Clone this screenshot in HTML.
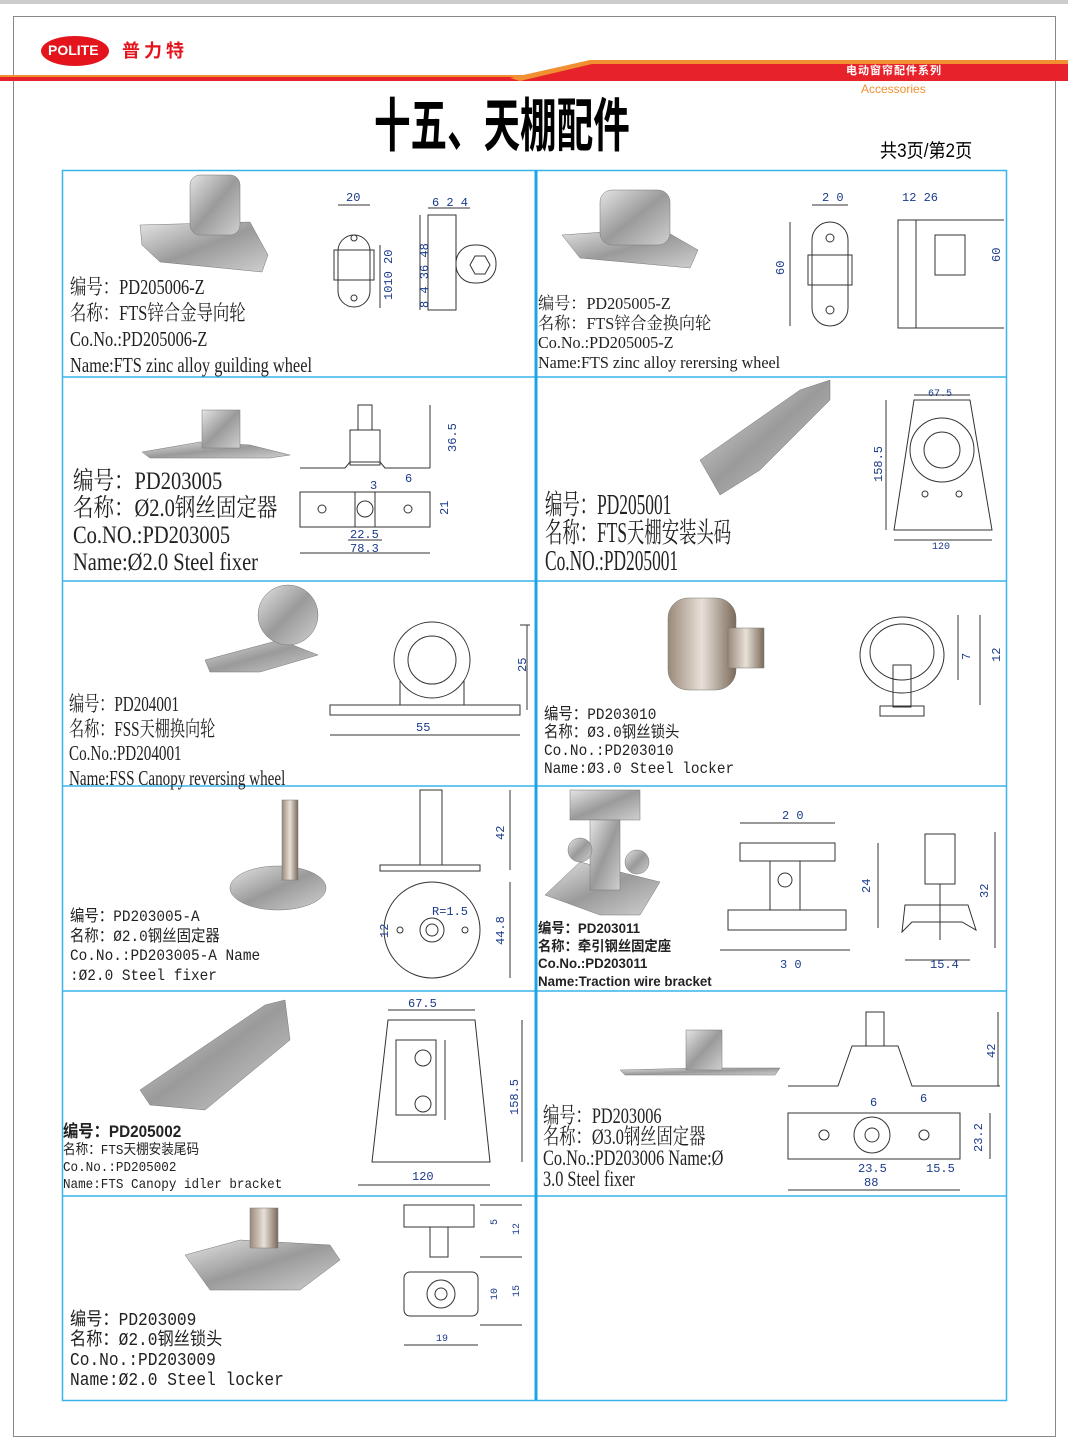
<!DOCTYPE html>
<html><head><meta charset="utf-8">
<style>
html,body{margin:0;padding:0;background:#fff}
#p{position:relative;width:1068px;height:1446px;overflow:hidden;background:#fff}
svg{position:absolute;left:0;top:0}
.t{position:absolute;white-space:nowrap;color:#222;transform-origin:0 0;line-height:1}
.c{font-family:"Liberation Serif","Noto Serif CJK SC",serif;transform:scaleX(0.72)}
.m{font-family:"Liberation Mono","Noto Sans CJK SC",monospace;transform:scaleX(0.9)}
.b{font-family:"Liberation Sans","Noto Sans CJK SC",sans-serif;font-weight:bold;transform:scaleX(0.95)}
.s{font-family:"Liberation Sans","Noto Sans CJK SC",sans-serif}
</style></head><body><div id="p">
<svg width="1068" height="1446" viewBox="0 0 1068 1446">
<rect x="0" y="0" width="1068" height="4" fill="#ccc"/>
<rect x="13.5" y="16.5" width="1042" height="1420" fill="none" stroke="#888" stroke-width="1"/>
<rect x="0" y="76" width="530" height="5" fill="#e8222a"/>
<rect x="0" y="75" width="530" height="2" fill="#f09030"/>
<polygon points="510,81 590,62 1068,62 1068,81" fill="#e8222a"/>
<polygon points="510,78 590,60 1068,60 1068,64 592,64 520,81" fill="#f09030"/>
<ellipse cx="75" cy="51" rx="34" ry="15" fill="#e3141c"/>
<g stroke="#38b4ea" stroke-width="1.5" fill="none">
<rect x="62.5" y="170.5" width="944" height="1230"/>
<line x1="62" y1="377" x2="1006" y2="377"/>
<line x1="62" y1="581" x2="1006" y2="581"/>
<line x1="62" y1="786" x2="1006" y2="786"/>
<line x1="62" y1="991" x2="1006" y2="991"/>
<line x1="62" y1="1196" x2="1006" y2="1196"/>
</g>
<line x1="536" y1="170" x2="536" y2="1400" stroke="#1aa4e6" stroke-width="3"/>
<defs><linearGradient id="g" x1="0" y1="0" x2="1" y2="1"><stop offset="0" stop-color="#e4e4e4"/><stop offset="0.5" stop-color="#9a9a9a"/><stop offset="1" stop-color="#cfcfcf"/></linearGradient>
<linearGradient id="gb" x1="0" y1="0" x2="1" y2="0"><stop offset="0" stop-color="#9a8a7a"/><stop offset="0.5" stop-color="#e8e0d8"/><stop offset="1" stop-color="#7a6a5a"/></linearGradient></defs>
<g fill="url(#g)" stroke="#777" stroke-width="0.5">
<polygon points="140,225 250,222 268,255 262,272 160,262 142,245"/><rect x="190" y="175" width="50" height="60" rx="10"/>
<polygon points="562,235 660,228 698,250 690,268 580,258"/><rect x="600" y="190" width="70" height="55" rx="12"/>
<polygon points="142,452 200,442 250,445 290,455 270,458 150,458"/><rect x="202" y="410" width="38" height="38"/>
<polygon points="700,460 800,390 830,380 830,400 760,470 720,495"/>
<polygon points="205,660 280,640 318,655 260,672 210,672"/><circle cx="288" cy="615" r="30"/>
<rect x="668" y="598" width="68" height="92" rx="20" fill="url(#gb)"/><rect x="728" y="628" width="36" height="40" fill="url(#gb)"/>
<ellipse cx="278" cy="888" rx="48" ry="22"/><rect x="282" y="800" width="16" height="80" fill="url(#gb)"/>
<polygon points="545,895 580,862 660,882 640,915 600,915"/><rect x="570" y="790" width="70" height="30"/><rect x="590" y="820" width="30" height="70"/><circle cx="580" cy="850" r="12"/><circle cx="637" cy="862" r="12"/>
<polygon points="140,1090 265,1005 285,1000 290,1040 205,1110 150,1105"/>
<polygon points="620,1070 700,1068 780,1068 775,1075 625,1075"/><rect x="686" y="1030" width="36" height="40"/>
<polygon points="185,1255 240,1240 330,1245 340,1260 300,1290 210,1290"/><rect x="250" y="1208" width="28" height="40" fill="url(#gb)"/>
</g>
<g stroke="#333" stroke-width="1" fill="none">
<rect x="338" y="235" width="32" height="72" rx="16"/><rect x="334" y="250" width="40" height="30"/><circle cx="354" cy="298" r="3"/><circle cx="354" cy="238" r="3"/>
<line x1="338" y1="205" x2="370" y2="205"/><line x1="380" y1="245" x2="380" y2="308"/>
<rect x="428" y="215" width="28" height="95"/><rect x="456" y="245" width="40" height="38" rx="18"/><polygon points="475,256 485,256 490,265 485,274 475,274 470,265"/>
<line x1="428" y1="208" x2="470" y2="208"/><line x1="420" y1="215" x2="420" y2="310"/>
<rect x="812" y="222" width="36" height="104" rx="18"/><rect x="808" y="255" width="44" height="30"/><circle cx="830" cy="238" r="4"/><circle cx="830" cy="310" r="4"/>
<line x1="812" y1="205" x2="848" y2="205"/><line x1="790" y1="222" x2="790" y2="326"/>
<rect x="898" y="220" width="18" height="108"/><line x1="916" y1="220" x2="1004" y2="220"/><line x1="916" y1="328" x2="1004" y2="328"/><rect x="935" y="235" width="30" height="40"/>
<rect x="350" y="430" width="30" height="35"/><rect x="358" y="405" width="14" height="25"/><polyline points="300,468 345,468 350,462 380,462 385,468 430,468"/>
<rect x="300" y="492" width="130" height="35"/><circle cx="322" cy="509" r="4"/><circle cx="408" cy="509" r="4"/><circle cx="365" cy="509" r="8"/><rect x="355" y="492" width="20" height="35"/>
<line x1="430" y1="405" x2="430" y2="468"/><line x1="430" y1="492" x2="430" y2="527"/><line x1="348" y1="540" x2="382" y2="540"/><line x1="300" y1="553" x2="430" y2="553"/>
<polygon points="914,400 970,400 992,530 894,530"/><circle cx="942" cy="450" r="32"/><circle cx="942" cy="450" r="18"/><circle cx="925" cy="494" r="3"/><circle cx="959" cy="494" r="3"/>
<line x1="914" y1="395" x2="970" y2="395"/><line x1="886" y1="400" x2="886" y2="530"/><line x1="894" y1="540" x2="992" y2="540"/>
<circle cx="432" cy="660" r="38"/><circle cx="432" cy="660" r="24"/><polyline points="400,680 400,705 464,705 464,680"/><rect x="330" y="705" width="190" height="10"/>
<line x1="520" y1="625" x2="530" y2="625"/><line x1="527" y1="625" x2="527" y2="710"/><line x1="330" y1="735" x2="520" y2="735"/>
<ellipse cx="902" cy="655" rx="42" ry="38"/><ellipse cx="902" cy="652" rx="32" ry="28"/><rect x="893" y="665" width="18" height="42"/><rect x="880" y="706" width="44" height="10"/>
<line x1="958" y1="615" x2="958" y2="680"/><line x1="980" y1="615" x2="980" y2="705"/>
<rect x="420" y="790" width="22" height="75"/><rect x="380" y="865" width="100" height="6"/>
<circle cx="432" cy="930" r="48"/><circle cx="432" cy="930" r="12"/><circle cx="432" cy="930" r="6"/><circle cx="400" cy="930" r="3"/><circle cx="465" cy="930" r="3"/>
<line x1="510" y1="790" x2="510" y2="870"/><line x1="510" y1="882" x2="510" y2="978"/>
<rect x="740" y="843" width="95" height="18"/><rect x="728" y="910" width="118" height="20"/><rect x="770" y="861" width="30" height="49"/><circle cx="785" cy="880" r="7"/>
<line x1="740" y1="823" x2="835" y2="823"/><line x1="878" y1="843" x2="878" y2="928"/><line x1="720" y1="950" x2="850" y2="950"/>
<rect x="925" y="834" width="30" height="50"/><polygon points="905,905 968,905 976,930 962,922 912,922 902,932"/><line x1="940" y1="884" x2="940" y2="940"/>
<line x1="995" y1="832" x2="995" y2="948"/><line x1="905" y1="960" x2="970" y2="960"/>
<polygon points="388,1020 475,1020 490,1162 372,1162"/><rect x="396" y="1040" width="40" height="75"/><circle cx="423" cy="1058" r="8"/><circle cx="423" cy="1104" r="8"/><line x1="445" y1="1040" x2="445" y2="1120"/>
<line x1="388" y1="1010" x2="475" y2="1010"/><line x1="522" y1="1020" x2="522" y2="1162"/><line x1="358" y1="1185" x2="490" y2="1185"/>
<rect x="866" y="1012" width="18" height="34"/><polyline points="788,1086 838,1086 852,1046 898,1046 912,1086 1000,1086"/>
<rect x="788" y="1113" width="172" height="46"/><circle cx="824" cy="1135" r="5"/><circle cx="872" cy="1135" r="18"/><circle cx="872" cy="1135" r="7"/><circle cx="924" cy="1135" r="5"/>
<line x1="998" y1="1012" x2="998" y2="1086"/><line x1="990" y1="1113" x2="990" y2="1159"/><line x1="788" y1="1190" x2="960" y2="1190"/>
<rect x="404" y="1205" width="70" height="22"/><rect x="430" y="1227" width="18" height="30"/>
<rect x="404" y="1272" width="74" height="44" rx="6"/><circle cx="441" cy="1294" r="14"/><circle cx="441" cy="1294" r="6"/>
<line x1="480" y1="1205" x2="522" y2="1205"/><line x1="480" y1="1257" x2="522" y2="1257"/><line x1="480" y1="1325" x2="522" y2="1325"/><line x1="404" y1="1345" x2="478" y2="1345"/>
</g>
<g font-family="Liberation Mono,monospace" font-size="12" fill="#1a3a8a">
<text x="346" y="201">20</text><text x="432" y="206">6 2 4</text>
<text x="822" y="201">2 0</text><text x="902" y="201">12  26</text>
<text x="928" y="396" font-size="10">67.5</text><text x="932" y="549" font-size="10">120</text>
<text x="416" y="731">55</text><text x="782" y="819">2 0</text><text x="780" y="968">3 0</text><text x="930" y="968">15.4</text>
<text x="408" y="1007">67.5</text><text x="412" y="1180">120</text><text x="350" y="538">22.5</text><text x="350" y="552">78.3</text>
<text x="858" y="1172">23.5</text><text x="926" y="1172">15.5</text><text x="864" y="1186">88</text><text x="436" y="1341" font-size="10">19</text>
<text x="432" y="915">R=1.5</text><text x="870" y="1106">6</text><text x="920" y="1102">6</text><text x="405" y="482">6</text><text x="370" y="489">3</text>
</g>
<g font-family="Liberation Mono,monospace" font-size="12" fill="#1a3a8a">
<text transform="translate(392,300) rotate(-90)">1010 20</text><text transform="translate(428,308) rotate(-90)">8 4   36  48</text>
<text transform="translate(784,275) rotate(-90)">60</text><text transform="translate(1000,262) rotate(-90)">60</text>
<text transform="translate(456,452) rotate(-90)">36.5</text><text transform="translate(448,515) rotate(-90)">21</text>
<text transform="translate(882,482) rotate(-90)">158.5</text><text transform="translate(526,672) rotate(-90)">25</text>
<text transform="translate(970,660) rotate(-90)">7</text><text transform="translate(1000,662) rotate(-90)">12</text>
<text transform="translate(504,840) rotate(-90)">42</text><text transform="translate(504,945) rotate(-90)">44.8</text><text transform="translate(388,938) rotate(-90)">12</text>
<text transform="translate(870,893) rotate(-90)">24</text><text transform="translate(988,898) rotate(-90)">32</text>
<text transform="translate(518,1115) rotate(-90)">158.5</text><text transform="translate(995,1058) rotate(-90)">42</text><text transform="translate(982,1152) rotate(-90)">23.2</text>
<text transform="translate(497,1225) rotate(-90)" font-size="10">5</text><text transform="translate(519,1235) rotate(-90)" font-size="10">12</text>
<text transform="translate(497,1300) rotate(-90)" font-size="10">10</text><text transform="translate(519,1297) rotate(-90)" font-size="10">15</text>
</g>
</svg>
<div class="t s" style="left:48px;top:43px;font-size:14px;color:#fff;font-weight:bold">POLITE</div>
<div class="t s" style="left:122px;top:42px;font-size:18px;color:#e3141c;font-weight:bold;letter-spacing:4px">普力特</div>
<div class="t s" style="left:846px;top:66px;font-size:11px;color:#fff;font-weight:bold;letter-spacing:1px">电动窗帘配件系列</div>
<div class="t s" style="left:861px;top:83px;font-size:12px;color:#f09030">Accessories</div>
<div class="t s" style="left:374px;top:98px;font-size:58px;color:#000;font-weight:bold;transform:scaleX(0.63)">十五、天棚配件</div>
<div class="t s" style="left:880px;top:142px;font-size:19px;color:#000;transform:scaleX(0.9)">共3页/第2页</div>

<div class="t c" style="left:70px;top:274px;font-size:21px;line-height:26px;transform:scaleX(0.78)">编号：PD205006-Z<br>名称：FTS锌合金导向轮<br>Co.No.:PD205006-Z<br>Name:FTS zinc alloy guilding wheel</div>
<div class="t c" style="left:538px;top:294px;font-size:17px;line-height:19.5px;transform:scaleX(0.95)">编号：PD205005-Z<br>名称：FTS锌合金换向轮<br>Co.No.:PD205005-Z<br>Name:FTS zinc alloy rerersing wheel</div>
<div class="t c" style="left:73px;top:468px;font-size:25px;line-height:27px;transform:scaleX(0.82)">编号：PD203005<br>名称：Ø2.0钢丝固定器<br>Co.NO.:PD203005<br>Name:Ø2.0 Steel fixer</div>
<div class="t c" style="left:545px;top:492px;font-size:28px;line-height:28px;transform:scaleX(0.62)">编号：PD205001<br>名称：FTS天棚安装头码<br>Co.NO.:PD205001</div>
<div class="t c" style="left:69px;top:692px;font-size:21px;line-height:24.5px">编号：PD204001<br>名称：FSS天棚换向轮<br>Co.No.:PD204001<br>Name:FSS Canopy reversing wheel</div>
<div class="t m" style="left:544px;top:706px;font-size:16px;line-height:18px">编号：PD203010<br>名称：Ø3.0钢丝锁头<br>Co.No.:PD203010<br>Name:Ø3.0 Steel locker</div>
<div class="t m" style="left:70px;top:908px;font-size:16px;line-height:19.5px">编号：PD203005-A<br>名称：Ø2.0钢丝固定器<br>Co.No.:PD203005-A Name<br>:Ø2.0 Steel fixer</div>
<div class="t b" style="left:538px;top:920px;font-size:14px;line-height:17.5px">编号：PD203011<br>名称：牵引钢丝固定座<br>Co.No.:PD203011<br>Name:Traction wire bracket</div>
<div class="t m" style="left:63px;top:1123px;font-size:14px;line-height:17px"><span class="b" style="font-size:17px">编号：PD205002</span><br>名称：FTS天棚安装尾码<br>Co.No.:PD205002<br>Name:FTS Canopy idler bracket</div>
<div class="t c" style="left:543px;top:1105px;font-size:22px;line-height:21px;transform:scaleX(0.74)">编号：PD203006<br>名称：Ø3.0钢丝固定器<br>Co.No.:PD203006 Name:Ø<br>3.0 Steel fixer</div>
<div class="t m" style="left:70px;top:1311px;font-size:18px;line-height:20px">编号：PD203009<br>名称：Ø2.0钢丝锁头<br>Co.No.:PD203009<br>Name:Ø2.0 Steel locker</div>
</div></body></html>
